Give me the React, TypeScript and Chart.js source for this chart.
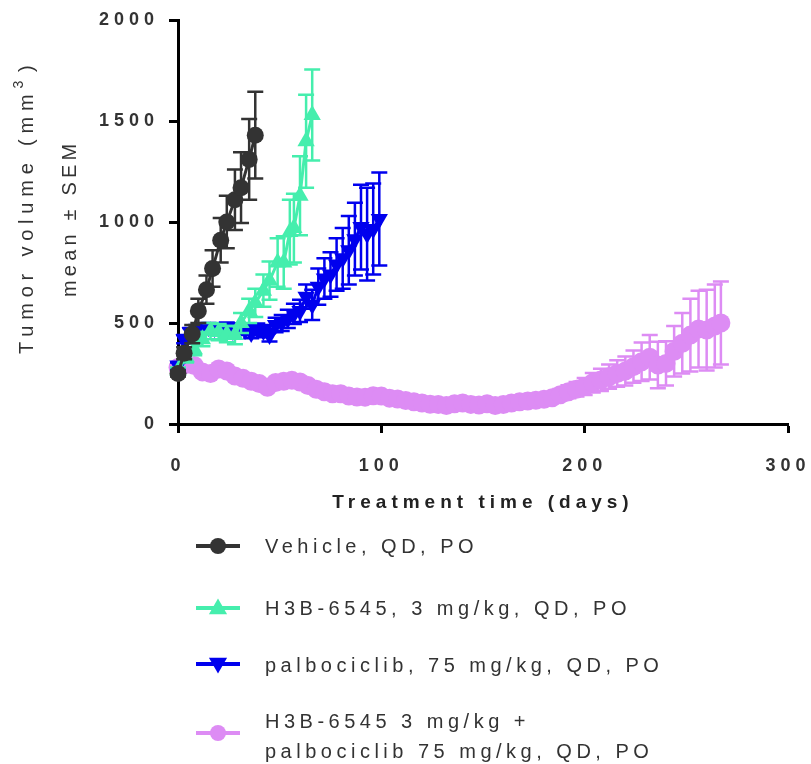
import React, { useEffect, useRef } from 'react';
import { Chart, registerables } from 'chart.js';
import { drawPoint } from 'chart.js/helpers';

Chart.register(...registerables);

const FAMILY = "'Liberation Sans', Arial, Helvetica, sans-serif";

// ---- Data ----
const vehicleDays = [0, 3, 7, 10, 14, 17, 21, 24, 28, 31, 35, 38];
const vehicleMean = [250, 350, 445, 560, 665, 770, 910, 1000, 1110, 1170, 1310, 1430];
const vehicleSem = [15, 30, 45, 60, 70, 90, 110, 130, 150, 175, 200, 215];

const h3bDays = [0, 4, 8, 12, 16, 20, 24, 28, 31, 35, 38, 42, 45, 49, 52, 55, 57, 60, 63, 66];
const h3bMean = [265, 330, 370, 420, 460, 455, 445, 440, 500, 560, 600, 660, 710, 800, 800, 950, 970, 1130, 1400, 1530];
const h3bSem = [15, 25, 30, 35, 40, 40, 40, 45, 50, 60, 70, 80, 95, 120, 130, 160, 170, 195, 230, 225];

const palboDays = [0, 3, 6, 9, 12, 15, 18, 21, 24, 27, 30, 33, 36, 39, 42, 45, 48, 51, 54, 57, 60, 63, 66, 69, 72, 75, 78, 81, 84, 87, 90, 93, 96, 99];
const palboMean = [290, 420, 455, 470, 470, 480, 475, 470, 480, 460, 475, 465, 450, 470, 460, 440, 490, 500, 520, 545, 560, 630, 590, 680, 720, 740, 790, 820, 860, 915, 975, 940, 965, 1015];
const palboSem = [15, 20, 20, 20, 20, 20, 20, 20, 22, 22, 22, 24, 25, 28, 30, 32, 36, 40, 45, 50, 55, 60, 75, 90, 100, 110, 130, 150, 170, 180, 210, 230, 225, 230];

const comboDays = [0, 4, 8, 12, 16, 20, 24, 28, 32, 36, 40, 44, 48, 52, 56, 60, 64, 68, 72, 76, 80, 84, 88, 92, 96, 100, 104, 108, 112, 116, 120, 124, 128, 132, 136, 140, 144, 148, 152, 156, 160, 164, 168, 172, 176, 180, 184, 188, 192, 196, 200, 204, 208, 212, 216, 220, 224, 228, 232, 236, 240, 244, 248, 252, 256, 260, 264, 267];
const comboMean = [280, 295, 290, 258, 250, 272, 262, 238, 226, 212, 200, 182, 205, 212, 216, 208, 190, 172, 160, 150, 150, 138, 134, 133, 140, 138, 128, 124, 116, 110, 104, 98, 96, 92, 100, 104, 97, 94, 100, 92, 96, 104, 110, 114, 118, 122, 130, 145, 160, 172, 186, 204, 218, 234, 250, 262, 284, 308, 330, 292, 300, 360, 400, 440, 470, 465, 485, 500];
const comboSem = [12, 14, 14, 14, 14, 15, 15, 14, 14, 14, 13, 13, 14, 14, 14, 14, 13, 12, 12, 12, 12, 12, 12, 12, 12, 12, 12, 12, 11, 11, 11, 11, 11, 11, 11, 12, 12, 12, 12, 12, 13, 14, 15, 16, 18, 20, 24, 28, 32, 36, 42, 48, 55, 60, 66, 72, 80, 95, 110, 115, 110, 125, 150, 180, 190, 200, 205, 205];

const legendLabels = [
  ['Vehicle, QD, PO'],
  ['H3B-6545, 3 mg/kg, QD, PO'],
  ['palbociclib, 75 mg/kg, QD, PO'],
  ['H3B-6545 3 mg/kg +', 'palbociclib 75 mg/kg, QD, PO'],
];

const yTicks = [0, 500, 1000, 1500, 2000];
const xTicks = [0, 100, 200, 300];
const xTitle = 'Treatment time (days)';
const yTitleMain = 'Tumor volume (mm';
const yTitleSup = '3';
const yTitleEnd = ')';
const yTitleLine2 = 'mean \u00B1 SEM';

// ---- Styles ----
const colors = ['#333333', '#45EEAD', '#0000EE', '#DD8CF4'];
const pointStyles = ['circle', 'triangle', 'triangle', 'circle'];
const pointRotations = [0, 0, 180, 0];
const pointRadii = [8.5, 10, 10, 9.5];

const toXY = (days: number[], vals: number[]) => days.map((d, i) => ({ x: d, y: vals[i] }));

const errorBarPlugin = {
  id: 'errorBars',
  beforeDatasetDraw(chart: any, args: any) {
    const ds = chart.data.datasets[args.index];
    const sems: number[] = ds.sem;
    if (!sems) return;
    const yScale = chart.scales.y;
    const ctx = chart.ctx;
    ctx.save();
    ctx.strokeStyle = ds.borderColor;
    ctx.lineWidth = 2.5;
    args.meta.data.forEach((pt: any, i: number) => {
      const v = ds.data[i].y;
      const s = sems[i];
      const top = yScale.getPixelForValue(v + s);
      const bot = yScale.getPixelForValue(v - s);
      const x = pt.x;
      ctx.beginPath();
      ctx.moveTo(x, top);
      ctx.lineTo(x, bot);
      ctx.moveTo(x - 8, top);
      ctx.lineTo(x + 8, top);
      ctx.moveTo(x - 8, bot);
      ctx.lineTo(x + 8, bot);
      ctx.stroke();
    });
    ctx.restore();
  },
};

const textPlugin = {
  id: 'customText',
  beforeDraw(chart: any) {
    const ctx = chart.ctx;
    ctx.save();
    ctx.fillStyle = '#ffffff';
    ctx.fillRect(0, 0, chart.width, chart.height);
    ctx.restore();
    ctx.letterSpacing = '5px';
  },
  beforeDatasetsDraw(chart: any) {
    chart.ctx.letterSpacing = '0px';
  },
  afterDraw(chart: any) {
    const ctx = chart.ctx;
    ctx.save();
    ctx.fillStyle = '#333333';
    ctx.textAlign = 'left';
    ctx.textBaseline = 'middle';

    // Y axis title (two lines, rotated)
    ctx.save();
    ctx.letterSpacing = '5.8px';
    ctx.translate(27, 354);
    ctx.rotate(-Math.PI / 2);
    ctx.font = `20px ${FAMILY}`;
    ctx.fillText(yTitleMain, 0, 0);
    let w = ctx.measureText(yTitleMain).width;
    ctx.font = `14px ${FAMILY}`;
    ctx.fillText(yTitleSup, w, -8);
    w += ctx.measureText(yTitleSup).width + 3;
    ctx.font = `20px ${FAMILY}`;
    ctx.fillText(yTitleEnd, w, 0);
    ctx.restore();

    ctx.save();
    ctx.letterSpacing = '4.2px';
    ctx.translate(70, 297);
    ctx.rotate(-Math.PI / 2);
    ctx.font = `20px ${FAMILY}`;
    ctx.fillText(yTitleLine2, 0, 0);
    ctx.restore();

    // Legend
    ctx.letterSpacing = '4.5px';
    const rows = [
      { lineY: 546, textY: [547] },
      { lineY: 608, textY: [609] },
      { lineY: 664, textY: [666] },
      { lineY: 733, textY: [722, 752] },
    ];
    ctx.font = `20px ${FAMILY}`;
    rows.forEach((row, i) => {
      const ds = chart.data.datasets[i];
      ctx.save();
      ctx.strokeStyle = ds.borderColor;
      ctx.lineWidth = 4;
      ctx.beginPath();
      ctx.moveTo(196, row.lineY);
      ctx.lineTo(240, row.lineY);
      ctx.stroke();
      ctx.fillStyle = ds.backgroundColor;
      drawPoint(ctx, {
        pointStyle: ds.pointStyle,
        rotation: ds.pointRotation,
        radius: pointStyles[i] === 'circle' ? 8 : 10.5,
        borderWidth: 0,
      } as any, 218, row.lineY + (pointStyles[i] === 'triangle' ? (pointRotations[i] ? -1 : 1) : 0));
      ctx.restore();
      legendLabels[i].forEach((t, j) => {
        ctx.fillText(t, 265, row.textY[j]);
      });
    });
    ctx.restore();
    ctx.letterSpacing = '0px';
  },
};

export default function App() {
  const ref = useRef<HTMLCanvasElement>(null);

  useEffect(() => {
    const canvas = ref.current;
    if (!canvas) return;
    const series = [
      [vehicleDays, vehicleMean, vehicleSem],
      [h3bDays, h3bMean, h3bSem],
      [palboDays, palboMean, palboSem],
      [comboDays, comboMean, comboSem],
    ];
    const datasets = series.map((s, i) => ({
      label: legendLabels[i].join(' '),
      data: toXY(s[0], s[1]),
      sem: s[2],
      borderColor: colors[i],
      backgroundColor: colors[i],
      borderWidth: 3,
      pointStyle: pointStyles[i],
      pointRotation: pointRotations[i],
      pointRadius: pointRadii[i],
      pointBorderWidth: 0,
      pointBackgroundColor: colors[i],
      tension: 0,
      clip: false,
    }));

    const chart = new Chart(canvas, {
      type: 'line',
      data: { datasets } as any,
      options: {
        responsive: false,
        animation: false,
        devicePixelRatio: 1,
        layout: { padding: { left: 0, top: 20, right: 23, bottom: 250 } },
        plugins: {
          legend: { display: false },
          tooltip: { enabled: false },
        },
        scales: {
          x: {
            type: 'linear',
            min: 0,
            max: 300,
            afterFit: (scale: any) => {
              scale.height = 90;
              scale.paddingLeft = 0;
              scale.paddingRight = 0;
            },
            afterBuildTicks: (scale: any) => {
              scale.ticks = xTicks.map((v) => ({ value: v }));
            },
            ticks: {
              font: { family: FAMILY, size: 18, weight: 'bold' },
              color: '#333333',
              padding: 22,
              maxRotation: 0,
              callback: (v: any) => String(v),
            },
            grid: {
              display: true,
              drawOnChartArea: false,
              drawTicks: true,
              tickLength: 9,
              tickWidth: 3,
              tickColor: '#000000',
            },
            border: { display: true, width: 3, color: '#000000' },
            title: {
              display: true,
              text: xTitle,
              font: { family: FAMILY, size: 19, weight: 'bold' },
              color: '#222222',
              padding: 0,
            },
          },
          y: {
            type: 'linear',
            min: 0,
            max: 2000,
            afterFit: (scale: any) => {
              scale.width = 178;
              scale.paddingTop = 0;
              scale.paddingBottom = 0;
            },
            afterBuildTicks: (scale: any) => {
              scale.ticks = yTicks.map((v) => ({ value: v }));
            },
            ticks: {
              font: { family: FAMILY, size: 18, weight: 'bold' },
              color: '#333333',
              padding: 10,
              callback: (v: any) => String(v),
            },
            grid: {
              display: true,
              drawOnChartArea: false,
              drawTicks: true,
              tickLength: 9,
              tickWidth: 3,
              tickColor: '#000000',
            },
            border: { display: true, width: 3, color: '#000000' },
          },
        },
      } as any,
      plugins: [errorBarPlugin, textPlugin],
    });
    return () => chart.destroy();
  }, []);

  return (
    <div style={{ position: 'fixed', left: 0, top: 0, width: 811, height: 764, background: '#ffffff' }}>
      <canvas ref={ref} width={811} height={764} style={{ width: 811, height: 764, display: 'block' }} />
    </div>
  );
}
